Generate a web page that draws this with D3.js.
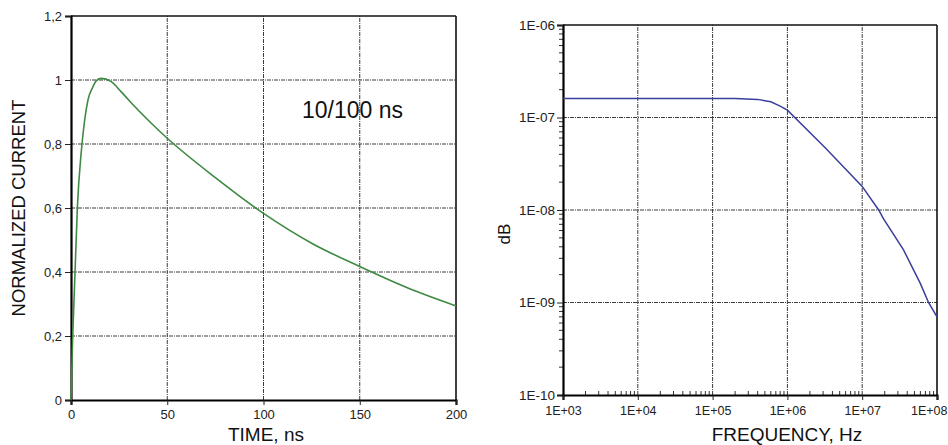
<!DOCTYPE html>
<html>
<head>
<meta charset="utf-8">
<script src="https://cdn.jsdelivr.net/npm/d3@7"></script>
<style>
  html, body { margin: 0; padding: 0; background: #fff; }
  svg { display: block; font-family: Arial, "Liberation Sans", Helvetica, sans-serif; }
</style>
</head>
<body>
<svg id="chart" width="948" height="445"></svg>
<script>
// ---------- DATA ----------
// Left panel: normalized current pulse (10/100 ns)
const timeNs = [0, 0.9, 2.1, 3.3, 5.4, 7.1, 8.8, 11.4, 13.2, 15.7, 20.9, 26.1, 33.1, 41.7, 50, 75, 100, 125, 150, 175, 200];
const currentNorm = [0, 0.2, 0.4, 0.6, 0.78, 0.875, 0.937, 0.979, 0.998, 1.005, 0.995, 0.963, 0.917, 0.865, 0.818, 0.695, 0.583, 0.49, 0.417, 0.35, 0.294];
const leftXTicks = [0, 50, 100, 150, 200];
const leftYTicks = [0, 0.2, 0.4, 0.6, 0.8, 1, 1.2];
const leftNote = "10/100 ns";
const leftNotePos = [120, 0.88];

// Right panel: spectrum
const freqHz = [1e3, 1e4, 1e5, 2e5, 4e5, 6e5, 8e5, 1e6, 3.2e6, 1e7, 1.66e7, 1.93e7, 3.57e7, 5.98e7, 7.7e7, 1e8];
const spectrum = [1.6e-7, 1.6e-7, 1.6e-7, 1.6e-7, 1.57e-7, 1.48e-7, 1.33e-7, 1.2e-7, 4.7e-8, 1.8e-8, 1.0e-8, 8.0e-9, 3.7e-9, 1.61e-9, 1.0e-9, 7.0e-10];
const rightXTicks = [1e3, 1e4, 1e5, 1e6, 1e7, 1e8];
const rightXTickLabels = ["1E+03", "1E+04", "1E+05", "1E+06", "1E+07", "1E+08"];
const rightYTicks = [1e-10, 1e-9, 1e-8, 1e-7, 1e-6];
const rightYTickLabels = ["1E-10", "1E-09", "1E-08", "1E-07", "1E-06"];

// ---------- DRAWING ----------
const svg = d3.select("#chart");
const gridColor = "#3a3a3a";
const gridDash = "4,1,1,1";

function frame(g, x0, x1, y0, y1) {
  g.append("line").attr("x1", x0).attr("x2", x1).attr("y1", y1).attr("y2", y1)
    .attr("stroke", "#111").attr("stroke-width", 1.6);
  g.append("line").attr("x1", x1).attr("x2", x1).attr("y1", y1).attr("y2", y0)
    .attr("stroke", "#111").attr("stroke-width", 1.6);
}

function styleAxis(sel, size) {
  sel.selectAll(".domain").attr("stroke", "#000").attr("stroke-width", 2.2);
  sel.selectAll(".tick line").attr("stroke", "#222").attr("stroke-width", 1);
  sel.selectAll(".tick text").attr("fill", "#222").style("font-size", size + "px")
    .style("font-family", "Arial, 'Liberation Sans', sans-serif");
}

// ----- Left panel -----
const xL = d3.scaleLinear().domain([0, 200]).range([71, 456]);
const yL = d3.scaleLinear().domain([0, 1.2]).range([400, 16]);
const gL = svg.append("g");

gL.append("g").selectAll("line").data(leftXTicks.filter(d => d > 0 && d < 200)).join("line")
  .attr("x1", d => xL(d)).attr("x2", d => xL(d)).attr("y1", yL(0)).attr("y2", yL(1.2))
  .attr("stroke", gridColor).attr("stroke-width", 1).attr("stroke-dasharray", gridDash);
gL.append("g").selectAll("line").data(leftYTicks.filter(d => d > 0 && d < 1.2)).join("line")
  .attr("x1", xL(0)).attr("x2", xL(200)).attr("y1", d => yL(d)).attr("y2", d => yL(d))
  .attr("stroke", gridColor).attr("stroke-width", 1).attr("stroke-dasharray", gridDash);

frame(gL, xL(0), xL(200), yL(0), yL(1.2));

const fmtComma = d => String(d).replace(".", ",");
const axL = gL.append("g").attr("transform", `translate(${xL(0)},0)`)
  .call(d3.axisLeft(yL).tickValues(leftYTicks).tickFormat(fmtComma).tickSize(6).tickPadding(3));
styleAxis(axL, 13);
const axB = gL.append("g").attr("transform", `translate(0,${yL(0)})`)
  .call(d3.axisBottom(xL).tickValues(leftXTicks).tickFormat(d3.format("d")).tickSize(5).tickPadding(5));
styleAxis(axB, 13);

gL.append("path").datum(timeNs.map((t, i) => [t, currentNorm[i]]))
  .attr("fill", "none").attr("stroke", "#3f8a42").attr("stroke-width", 1.6)
  .attr("d", d3.line().x(d => xL(d[0])).y(d => yL(d[1])).curve(d3.curveMonotoneX));

gL.append("text").attr("x", xL(leftNotePos[0])).attr("y", yL(leftNotePos[1]))
  .attr("fill", "#111").style("font-size", "23px").text(leftNote);

gL.append("text").attr("transform", `translate(25,${(yL(0) + yL(1.2)) / 2}) rotate(-90)`)
  .attr("text-anchor", "middle").attr("fill", "#111").style("font-size", "18.5px")
  .text("NORMALIZED CURRENT");
gL.append("text").attr("x", 266).attr("y", 441).attr("text-anchor", "middle")
  .attr("fill", "#111").style("font-size", "19px").text("TIME, ns");

// ----- Right panel -----
const xR = d3.scaleLog().domain([1e3, 1e8]).range([563, 937]);
const yR = d3.scaleLog().domain([1e-10, 1e-6]).range([395, 25]);
const gR = svg.append("g");

gR.append("g").selectAll("line").data(rightXTicks.slice(1, -1)).join("line")
  .attr("x1", d => xR(d)).attr("x2", d => xR(d)).attr("y1", yR(1e-10)).attr("y2", yR(1e-6))
  .attr("stroke", gridColor).attr("stroke-width", 1).attr("stroke-dasharray", gridDash);
gR.append("g").selectAll("line").data(rightYTicks.slice(1, -1)).join("line")
  .attr("x1", xR(1e3)).attr("x2", xR(1e8)).attr("y1", d => yR(d)).attr("y2", d => yR(d))
  .attr("stroke", gridColor).attr("stroke-width", 1).attr("stroke-dasharray", gridDash);

frame(gR, xR(1e3), xR(1e8), yR(1e-10), yR(1e-6));

const minorY = [];
for (let e = -10; e < -6; e++) for (let m = 2; m <= 9; m++) minorY.push(m * Math.pow(10, e));
const minorX = [];
for (let e = 3; e < 8; e++) for (let m = 2; m <= 9; m++) minorX.push(m * Math.pow(10, e));
gR.append("g").selectAll("line").data(minorY).join("line")
  .attr("x1", xR(1e3) - 4).attr("x2", xR(1e3)).attr("y1", d => yR(d)).attr("y2", d => yR(d))
  .attr("stroke", "#333").attr("stroke-width", 1);
gR.append("g").selectAll("line").data(minorX).join("line")
  .attr("x1", d => xR(d)).attr("x2", d => xR(d)).attr("y1", yR(1e-10)).attr("y2", yR(1e-10) - 4)
  .attr("stroke", "#333").attr("stroke-width", 1);

const axRL = gR.append("g").attr("transform", `translate(${xR(1e3)},0)`)
  .call(d3.axisLeft(yR).tickValues(rightYTicks).tickFormat((d, i) => rightYTickLabels[i]).tickSize(6).tickPadding(2));
styleAxis(axRL, 13.5);
const axRB = gR.append("g").attr("transform", `translate(0,${yR(1e-10)})`)
  .call(d3.axisBottom(xR).tickValues(rightXTicks).tickFormat((d, i) => rightXTickLabels[i]).tickSize(5).tickPadding(6));
styleAxis(axRB, 12.5);
// keep the last label inside the page
axRB.selectAll(".tick").filter(d => d === 1e8).select("text")
  .attr("text-anchor", "end").attr("x", 10);

gR.append("path").datum(freqHz.map((f, i) => [f, spectrum[i]]))
  .attr("fill", "none").attr("stroke", "#3a3f9c").attr("stroke-width", 1.5)
  .attr("d", d3.line().x(d => xR(d[0])).y(d => yR(d[1])));

gR.append("text").attr("transform", `translate(510,234) rotate(-90)`)
  .attr("text-anchor", "middle").attr("fill", "#111").style("font-size", "17px").text("dB");
gR.append("text").attr("x", 787).attr("y", 441).attr("text-anchor", "middle")
  .attr("fill", "#111").style("font-size", "19px").text("FREQUENCY, Hz");
</script>
</body>
</html>
